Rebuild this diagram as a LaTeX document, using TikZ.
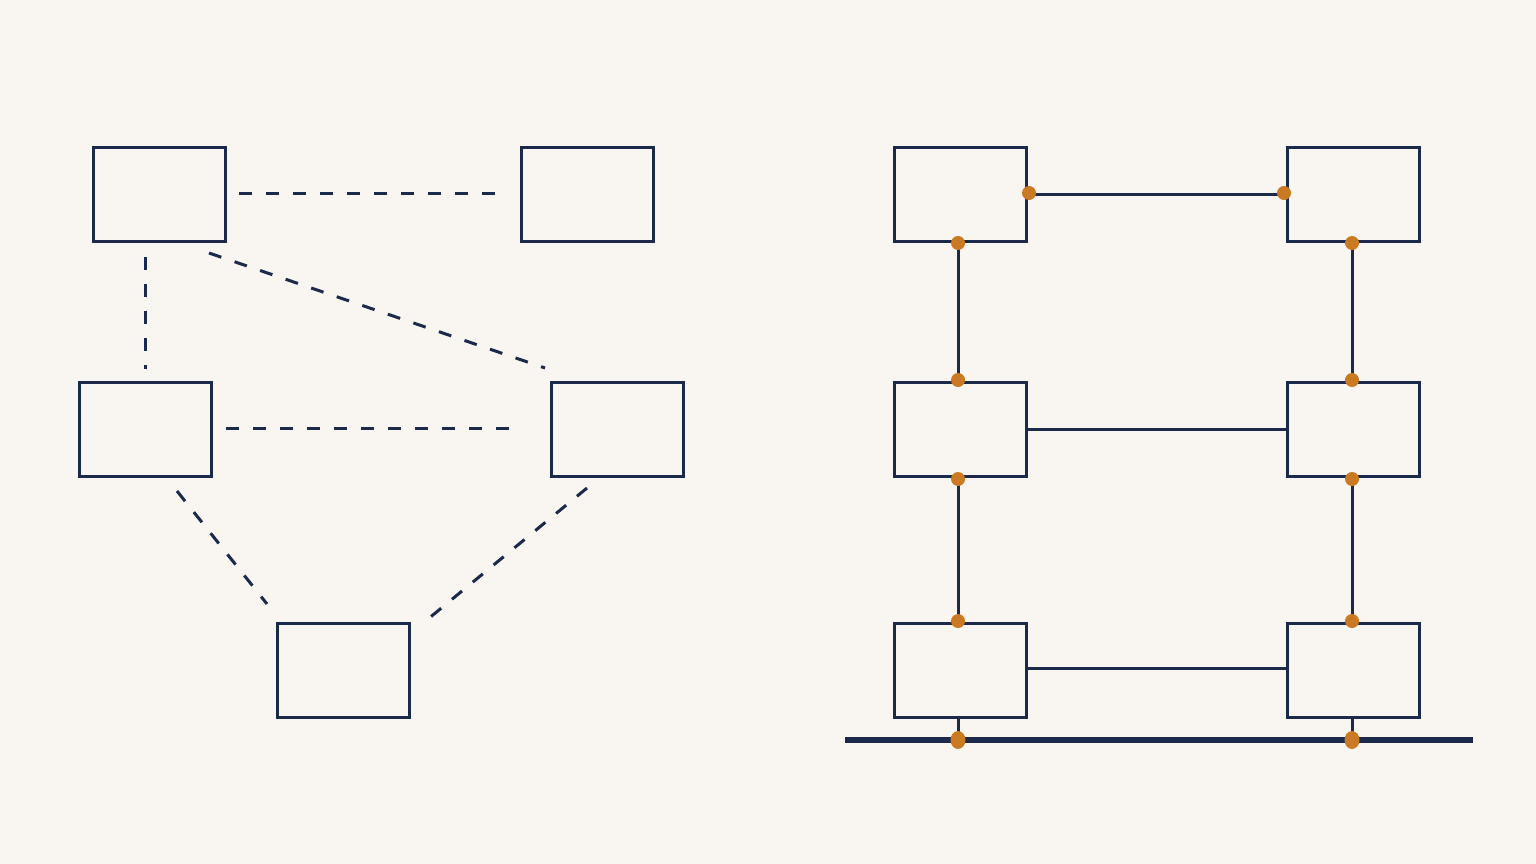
\documentclass[tikz,border=0pt]{standalone}
\usetikzlibrary{calc}
\definecolor{bg}{HTML}{F9F6F1}
\definecolor{navy}{HTML}{1B2A4A}
\definecolor{ochre}{HTML}{C97A22}
\begin{document}
\begin{tikzpicture}[x=1pt,y=-1pt,
  box/.style={draw=navy,line width=3pt,fill=bg,minimum width=132pt,minimum height=94pt,inner sep=0pt,outer sep=0pt},
  dline/.style={draw=navy,line width=3pt,dash pattern=on 13pt off 14pt},
  sline/.style={draw=navy,line width=3pt},
  bus/.style={draw=navy,line width=5.5pt},
  dot/.style={fill=ochre}]
\fill[bg] (0,0) rectangle (1536,864);
\useasboundingbox (0,0) rectangle (1536,864);
% left graph
\node[box] (A) at (159,194) {};
\node[box] (B) at (587,194) {};
\node[box] (C) at (145,429) {};
\node[box] (D) at (617,429) {};
\node[box] (E) at (343,670) {};
\draw[dline] ($(A.east)+(14,-1)$) -- ($(B.west)+(-23,-1)$);
\draw[dline] ($(C.north)+(0,-125)$) -- ($(C.north)+(0,-13)$);
\draw[dline] ($(A.south east)+(-16,12)$) -- ($(D.north west)+(-6,-14)$);
\draw[dline] ($(C.east)+(15,-1)$) -- ($(D.west)+(-31,-1)$);
\draw[dline] ($(C.south east)+(-34,15)$) -- ($(E.north west)+(-10,-19)$);
\draw[dline] ($(D.south)+(-30,12)$) -- ($(E.north east)+(13,1)$);
% right bus network
\node[box] (R1) at (960,194) {};
\node[box] (R2) at (1353,194) {};
\node[box] (R3) at (960,429) {};
\node[box] (R4) at (1353,429) {};
\node[box] (R5) at (960,670) {};
\node[box] (R6) at (1353,670) {};
\coordinate (busL) at (845,740);
\coordinate (busR) at (1473,740);
\draw[sline] (R1.east) -- (R2.west);
\draw[sline] (R3.east) -- (R4.west);
\draw[sline] ($(R5.east)+(0,-2)$) -- ($(R6.west)+(0,-2)$);
\draw[sline] ([xshift=-2pt]R1.south) -- ([xshift=-2pt]R3.north);
\draw[sline] ([xshift=-2pt]R3.south) -- ([xshift=-2pt]R5.north);
\draw[sline] ([xshift=-1pt]R2.south) -- ([xshift=-1pt]R4.north);
\draw[sline] ([xshift=-1pt]R4.south) -- ([xshift=-1pt]R6.north);
\draw[sline] ([xshift=-2pt]R5.south) -- ([xshift=-2pt]R5.south |- busL);
\draw[sline] ([xshift=-1pt]R6.south) -- ([xshift=-1pt]R6.south |- busL);
\draw[bus] (busL) -- (busR);
% connection dots
\fill[dot] ($(R1.east)+(3,-1)$) circle (7);
\fill[dot] ($(R2.west)+(-3,-1)$) circle (7);
\fill[dot] ($(R1.south)+(-2,2)$) circle (7);
\fill[dot] ($(R3.north)+(-2,-2)$) circle (7);
\fill[dot] ($(R3.south)+(-2,3)$) circle (7);
\fill[dot] ($(R5.north)+(-2,-2)$) circle (7);
\fill[dot] ($(R2.south)+(-1,2)$) circle (7);
\fill[dot] ($(R4.north)+(-1,-2)$) circle (7);
\fill[dot] ($(R4.south)+(-1,3)$) circle (7);
\fill[dot] ($(R6.north)+(-1,-2)$) circle (7);
\fill[dot] ([xshift=-2pt]R5.south |- busL) ellipse (7.5 and 9);
\fill[dot] ([xshift=-1pt]R6.south |- busL) ellipse (7.5 and 9);
\end{tikzpicture}
\end{document}
